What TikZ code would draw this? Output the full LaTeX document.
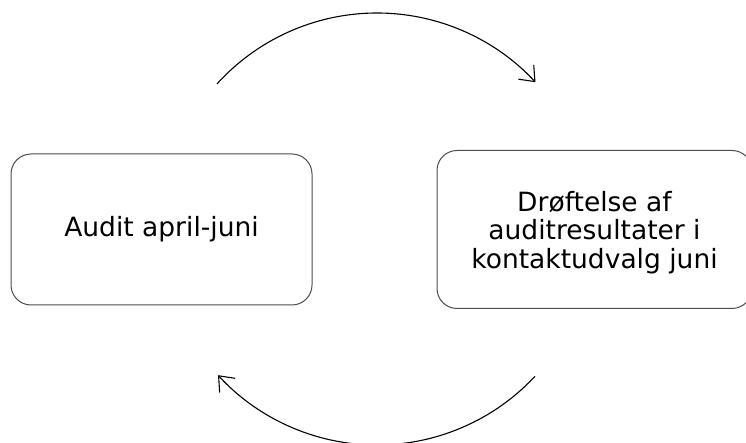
\documentclass[tikz,border=0pt]{standalone}
\usepackage{fontspec}
\setmainfont{DejaVu Sans}
\usetikzlibrary{arrows.meta}
\begin{document}
\begin{tikzpicture}[x=1pt,y=1pt,
  box/.style={draw=black!70, line width=1pt, rounded corners=20pt, fill=white,
    align=center, inner sep=0pt, font=\fontsize{26.5}{28.5}\selectfont},
  cyc/.style={line width=1.1pt, black,
    -{Straight Barb[length=13pt,width=21pt,line width=1.1pt]}}]
\useasboundingbox (0,0) rectangle (746,443);
\node[box, minimum width=301pt, minimum height=151pt] (audit) at (161.5,213.5) {Audit april-juni};
\node[box, minimum width=315pt, minimum height=158pt, text depth=0pt] (drof) at (594.5,213.5) {Drøftelse af\\auditresultater i\\kontaktudvalg juni};
\coordinate (c) at (377,214);
\coordinate (ts) at ([shift={(137.8:216)}]c);
\coordinate (bs) at ([shift={(-43:216)}]c);
\draw[cyc] (ts) arc[start angle=137.8, end angle=42.8, radius=216];
\draw[cyc] (bs) arc[start angle=-43, end angle=-137.4, radius=216];
\end{tikzpicture}
\end{document}
